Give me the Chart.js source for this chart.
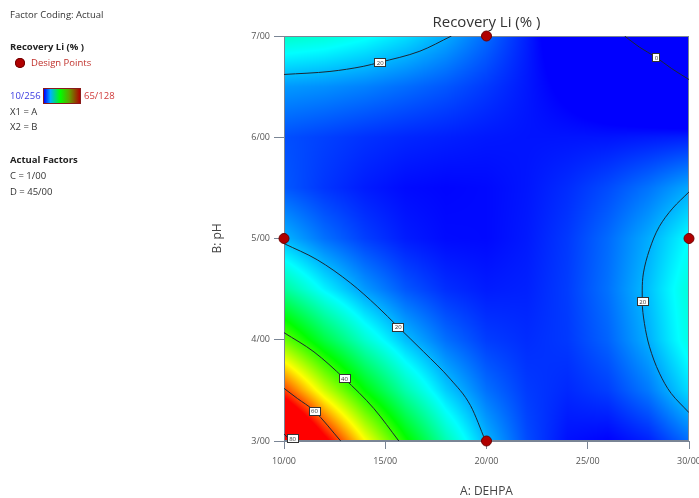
<!DOCTYPE html>
<html>
<head>
<meta charset="utf-8">
<title>Recovery Li contour</title>
<script src="https://cdn.jsdelivr.net/npm/chart.js@4.4.1/dist/chart.umd.min.js"></script>
<style>
  html, body { margin: 0; padding: 0; background: #fff; }
  #wrap { position: relative; width: 699px; height: 498px; overflow: hidden; font-family: "Open Sans", "Noto Sans", sans-serif; }
  #chart { position: absolute; left: 0; top: 0; }
  .side { position: absolute; left: 10px; font-size: 9.5px; line-height: 12px; color: #333; white-space: nowrap; }
  .side.bold { font-weight: bold; color: #222; }
  .dot { position: absolute; left: 15px; top: 58px; width: 10px; height: 10px; border-radius: 50%; background: #b00000; box-shadow: inset 0 0 0 1px #6e0000; }
  .bar { position: absolute; left: 43px; top: 88px; width: 36px; height: 14px; border: 1px solid #8a1a1a;
         background: linear-gradient(to right, #0000ff 0%, #00b0ff 18%, #00ff00 45%, #60a000 70%, #b00000 100%); }
</style>
</head>
<body>
<div id="wrap">
  <canvas id="chart" width="699" height="498"></canvas>
  <div class="side" style="top:8.6px">Factor Coding: Actual</div>
  <div class="side bold" style="top:40.5px">Recovery Li (% )</div>
  <div class="dot"></div>
  <div class="side" style="top:56.5px; left:31px; color:#c0302b">Design Points</div>
  <div class="side" style="top:90.3px; color:#3a3ae0">10/256</div>
  <div class="bar"></div>
  <div class="side" style="top:90.3px; left:84px; color:#d03a3a">65/128</div>
  <div class="side" style="top:106px">X1 = A</div>
  <div class="side" style="top:121.3px">X2 = B</div>
  <div class="side bold" style="top:154.3px">Actual Factors</div>
  <div class="side" style="top:170.3px">C = 1/00</div>
  <div class="side" style="top:186.3px">D = 45/00</div>
</div>
<script>
// response grid: columns follow factorA, rows follow factorB (pH 3 at the bottom)
const factorA = [10, 12, 14, 16, 18, 20, 22, 24, 26, 28, 30];
const factorB = [3, 3.5, 4, 4.5, 5, 5.5, 6, 6.5, 7];
const recovery = [
  [85.0, 67.1, 51.7, 38.7, 28.1, 20.0, 14.3, 11.1, 10.3, 12.0, 16.1],
  [62.0, 48.8, 37.6, 28.4, 21.3, 16.3, 13.4, 12.4, 13.6, 16.8, 22.1],
  [43.5, 34.2, 26.5, 20.5, 16.2, 13.5, 12.6, 13.3, 15.6, 19.7, 25.4],
  [29.5, 23.4, 18.5, 14.9, 12.7, 11.7, 12.0, 13.5, 16.4, 20.6, 26.0],
  [20.0, 16.3, 13.6, 11.7, 10.8, 10.7, 11.6, 13.3, 16.0, 19.5, 24.0],
  [15.0, 13.1, 11.7, 10.8, 10.5, 10.7, 11.4, 12.6, 14.3, 16.5, 19.3],
  [14.5, 13.7, 12.9, 12.3, 11.9, 11.5, 11.3, 11.3, 11.3, 11.6, 11.9],
  [18.5, 18.0, 17.2, 16.1, 14.9, 13.3, 11.5, 9.5, 7.2, 4.6, 1.8],
  [27.0, 26.1, 24.5, 22.3, 19.5, 16.0, 11.9, 7.2, 1.8, -4.3, -10.9]
];
const rangeLow = 10.256;
const rangeHigh = 65.128;

// contour lines, as [A, B] pairs
const contour20Low = [[10, 4.95], [11.64, 4.79], [13.29, 4.56], [14.6, 4.33], [15.62, 4.13], [16.9, 3.88], [18.22, 3.61], [19.21, 3.35], [19.95, 3.0]];
const contour40 = [[10, 4.07], [11.48, 3.88], [12.96, 3.62], [14.44, 3.32], [15.67, 3.0]];
const contour60 = [[10, 3.52], [10.66, 3.42], [11.48, 3.30], [12.8, 3.0]];
const contour80 = [[10, 3.07], [10.33, 3.0]];
const contour20Top = [[10, 6.62], [12.27, 6.65], [13.91, 6.70], [14.73, 6.74], [16.71, 6.85], [18.27, 7.0]];
const contour0 = [[26.82, 7.0], [27.55, 6.89], [28.37, 6.79], [29.13, 6.68], [30, 6.57]];
// this one bends back on itself, so it is listed from top to bottom
const contour20Right = [[30, 5.46], [29.2, 5.30], [28.54, 5.12], [28.05, 4.89], [27.75, 4.66], [27.69, 4.49],
  [27.69, 4.38], [27.8, 4.16], [28.05, 3.93], [28.54, 3.67], [29.12, 3.47], [30, 3.28]];

const labelText = ['20', '0', '20', '40', '60', '80', '20'];
const labelA = [14.73, 28.37, 15.62, 12.96, 11.48, 10.4, 27.69];
const labelB = [6.74, 6.79, 4.13, 3.62, 3.30, 3.03, 4.38];

const designA = [20, 10, 30, 20];
const designB = [7, 5, 5, 3];

const FONT = '"Open Sans", "Noto Sans", sans-serif';

function fmt(v) {
  return v.toFixed(2).replace('.', '/');
}

function sampleGrid(a, b) {
  let i = 0, j = 0;
  while (i < factorA.length - 2 && a > factorA[i + 1]) i++;
  while (j < factorB.length - 2 && b > factorB[j + 1]) j++;
  const u = Math.min(1, Math.max(0, (a - factorA[i]) / (factorA[i + 1] - factorA[i])));
  const w = Math.min(1, Math.max(0, (b - factorB[j]) / (factorB[j + 1] - factorB[j])));
  const r0 = recovery[j][i] * (1 - u) + recovery[j][i + 1] * u;
  const r1 = recovery[j + 1][i] * (1 - u) + recovery[j + 1][i + 1] * u;
  return r0 * (1 - w) + r1 * w;
}

const stops = [[0, 0, 255], [0, 255, 255], [0, 255, 0], [255, 255, 0], [255, 0, 0]];
function colourFor(v) {
  let t = (v - rangeLow) / (rangeHigh - rangeLow);
  t = Math.min(1, Math.max(0, t)) * 4;
  const k = Math.min(3, Math.floor(t));
  const f = t - k;
  const c0 = stops[k], c1 = stops[k + 1];
  return [c0[0] + (c1[0] - c0[0]) * f, c0[1] + (c1[1] - c0[1]) * f, c0[2] + (c1[2] - c0[2]) * f];
}

const heatmap = {
  id: 'heatmap',
  beforeDatasetsDraw(chart) {
    const { ctx, chartArea: area, scales: { x, y } } = chart;
    const left = Math.round(area.left), top = Math.round(area.top);
    const w = Math.round(area.right) - left, h = Math.round(area.bottom) - top;
    const img = ctx.createImageData(w, h);
    for (let r = 0; r < h; r++) {
      const b = y.getValueForPixel(top + r + 0.5);
      for (let c = 0; c < w; c++) {
        const a = x.getValueForPixel(left + c + 0.5);
        const col = colourFor(sampleGrid(a, b));
        const p = (r * w + c) * 4;
        img.data[p] = col[0];
        img.data[p + 1] = col[1];
        img.data[p + 2] = col[2];
        img.data[p + 3] = 255;
      }
    }
    ctx.putImageData(img, left, top);
    ctx.save();
    ctx.strokeStyle = '#7a8595';
    ctx.lineWidth = 1;
    ctx.strokeRect(left + 0.5, top + 0.5, w - 1, h - 1);
    ctx.restore();
  },
  afterDatasetsDraw(chart) {
    const { ctx, scales: { x, y } } = chart;
    ctx.save();
    ctx.font = '6px ' + FONT;
    ctx.textAlign = 'center';
    ctx.textBaseline = 'middle';
    labelText.forEach((t, i) => {
      const px = x.getPixelForValue(labelA[i]);
      const py = y.getPixelForValue(labelB[i]);
      const bw = Math.max(7, ctx.measureText(t).width + 4);
      ctx.fillStyle = '#fff';
      ctx.fillRect(Math.round(px - bw / 2) + 0.5, Math.round(py - 4) + 0.5, Math.round(bw), 8);
      ctx.strokeStyle = '#333';
      ctx.lineWidth = 1;
      ctx.strokeRect(Math.round(px - bw / 2) + 0.5, Math.round(py - 4) + 0.5, Math.round(bw), 8);
      ctx.fillStyle = '#333';
      ctx.fillText(t, px + 0.5, py + 1);
    });
    ctx.restore();
  }
};

function contourSet(points, axis) {
  return {
    type: 'line',
    indexAxis: axis || 'x',
    data: points.map(p => ({ x: p[0], y: p[1] })),
    borderColor: '#1c2733',
    borderWidth: 1,
    pointRadius: 0,
    cubicInterpolationMode: 'monotone',
    fill: false
  };
}

new Chart(document.getElementById('chart'), {
  type: 'scatter',
  data: {
    datasets: [
      {
        label: 'Design Points',
        data: designA.map((a, i) => ({ x: a, y: designB[i] })),
        pointRadius: 5,
        pointBackgroundColor: '#b00000',
        pointBorderColor: '#6e0000',
        pointBorderWidth: 1,
        clip: false
      },
      contourSet(contour20Low),
      contourSet(contour40),
      contourSet(contour60),
      contourSet(contour80),
      contourSet(contour20Top),
      contourSet(contour0),
      contourSet(contour20Right, 'y')
    ]
  },
  options: {
    responsive: false,
    animation: false,
    events: [],
    layout: { padding: { left: 200, right: 10, top: 0, bottom: 0 } },
    plugins: {
      legend: { display: false },
      tooltip: { enabled: false },
      title: {
        display: true,
        text: 'Recovery Li (% )',
        fullSize: false,
        color: '#333',
        font: { family: FONT, size: 15, weight: 'normal' },
        padding: { top: 14, bottom: 4 }
      }
    },
    scales: {
      x: {
        type: 'linear',
        min: 10,
        max: 30,
        ticks: { stepSize: 5, callback: fmt, color: '#555', font: { family: FONT, size: 9 }, padding: 7, maxRotation: 0, autoSkip: false },
        grid: { drawOnChartArea: false, tickLength: 8, color: '#7a8595' },
        border: { color: '#7a8595' },
        title: { display: true, text: 'A: DEHPA', color: '#444', font: { family: FONT, size: 12 }, padding: { top: 0, bottom: -1 } },
        afterFit(scale) { scale.height = 57; scale.paddingRight = 0; scale.paddingLeft = 0; }
      },
      y: {
        type: 'linear',
        min: 3,
        max: 7,
        ticks: { stepSize: 1, callback: fmt, color: '#555', font: { family: FONT, size: 9 }, padding: 4 },
        grid: { drawOnChartArea: false, tickLength: 10, color: '#7a8595' },
        border: { color: '#7a8595' },
        title: { display: true, text: 'B: pH', color: '#444', font: { family: FONT, size: 12 }, padding: { top: 10, bottom: 0 } },
        afterFit(scale) { scale.width = 84; }
      }
    }
  },
  plugins: [heatmap]
});
</script>
</body>
</html>
